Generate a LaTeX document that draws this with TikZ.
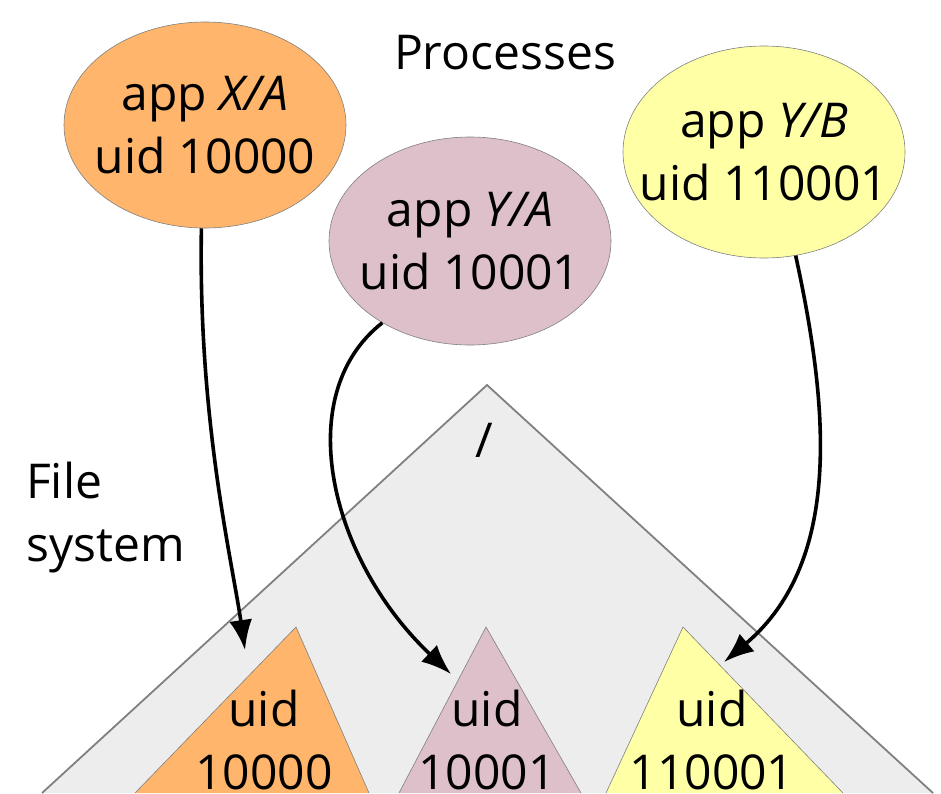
\documentclass[tikz,border=0pt]{standalone}
\usepackage{fontspec}
\setmainfont{Open Sans}
\usetikzlibrary{arrows.meta,shapes.geometric}
\definecolor{orangefill}{HTML}{FFB56B}
\definecolor{pinkfill}{HTML}{DEC0CA}
\definecolor{yellowfill}{HTML}{FFFFA6}
\definecolor{fsfill}{HTML}{EDEDED}
\definecolor{edgegray}{HTML}{808080}
\tikzset{
  proc/.style={ellipse, draw=edgegray, line width=0.6pt, minimum width=#1},
  proc/.default=282pt,
  label text/.style={font=\fontsize{48}{63}\selectfont, align=center, inner sep=0pt},
  tree/.style={draw=edgegray, line width=0.6pt},
  link/.style={line width=3.6pt, -{Latex[length=30pt,width=23pt]}}
}
\begin{document}
\begin{tikzpicture}[x=1pt,y=-1pt]
\useasboundingbox (0,0) rectangle (941,793);
\clip (0,0) rectangle (941,793);
% file system tree
\draw[tree, line width=1.8pt, fill=fsfill] (42,793) -- (487,385) -- (933,793);
\draw[tree, fill=orangefill] (135,793) -- (296,627) -- (369,793);
\draw[tree, fill=pinkfill] (399,793) -- (486,627) -- (581,793);
\draw[tree, fill=yellowfill] (606,793) -- (683,627) -- (843,793);
\node[label text] (root) at (484,440) {/};
\node[label text] (fsA) at (264,740) {uid\\10000};
\node[label text] (fsB) at (487,740) {uid\\10001};
\node[label text] (fsC) at (712,740) {uid\\110001};
% headings
\node[label text, anchor=base] (hproc) at (505,69) {Processes};
\node[label text, align=left, anchor=north west] (hfs) at (26,462) {File\\system};
% processes
\node[proc, fill=orangefill, minimum height=206pt] (pXA) at (205,125) {};
\node[label text] at (pXA) {app \textit{X/A}\\uid 10000};
\node[proc, fill=pinkfill, minimum height=208pt] (pYA) at (470,241) {};
\node[label text] at (pYA) {app \textit{Y/A}\\uid 10001};
\node[proc, fill=yellowfill, minimum height=212pt] (pYB) at (764,152) {};
\node[label text] at (pYB) {app \textit{Y/B}\\uid 110001};
% connectors
\coordinate (tA) at (245,650);
\coordinate (tB) at (451,674);
\coordinate (tC) at (724,662);
\draw[link] (pXA.268) .. controls (198,420) and (232,560) .. (tA);
\draw[link] (pYA.223) .. controls (290,395) and (330,560) .. (tB);
\draw[link] (pYB.287) .. controls (827,400) and (845,560) .. (tC);
\end{tikzpicture}
\end{document}
